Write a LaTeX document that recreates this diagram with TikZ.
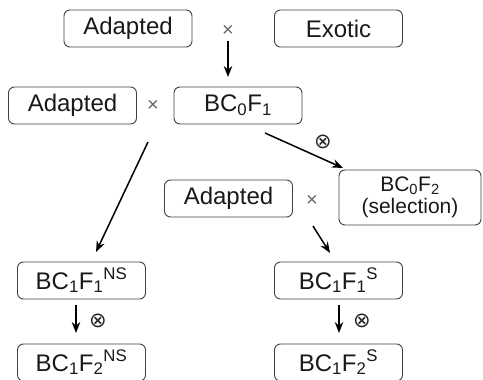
\documentclass[tikz,border=0pt]{standalone}
\usepackage{fontspec}
\setmainfont{Liberation Sans}
\newfontfamily\symfont{DejaVu Sans}
\usetikzlibrary{arrows.meta}
\begin{document}
\begin{tikzpicture}[x=1pt,y=-1pt,
  box/.style={draw=black!75, line width=0.9pt, rounded corners=6pt, minimum width=128pt, minimum height=37pt, inner sep=0pt, font=\fontsize{24}{26}\selectfont, text=black!90},
  crs/.style={inner sep=0pt, font=\fontsize{20}{20}\selectfont, text=black!60},
  otm/.style={inner sep=0pt, font=\symfont\fontsize{21}{21}\selectfont, text=black!85},
  arr/.style={-{Stealth[length=11pt,width=8.5pt]}, line width=1.5pt, black}]
\useasboundingbox (0,0) rectangle (483,380);
\node[box] (a1) at (128,28.5) {Adapted};
\node[box] (ex) at (338.5,28.5) {Exotic};
\node[box] (a2) at (72.5,105.5) {Adapted};
\node[box] (b01) at (238,105.5) {BC\textsubscript{0}F\textsubscript{1}};
\node[box] (a3) at (228.5,198.5) {Adapted};
\node[box, minimum width=142pt, minimum height=55pt, align=center, font=\fontsize{21}{22.5}\selectfont] (b02) at (410,197.5) {BC\textsubscript{0}F\textsubscript{2}\\(selection)};
\node[box] (ns1) at (81.5,280.5) {BC\textsubscript{1}F\textsubscript{1}\textsuperscript{NS}};
\node[box] (s1) at (338.5,280.5) {BC\textsubscript{1}F\textsubscript{1}\textsuperscript{S}};
\node[box] (ns2) at (81.5,362.5) {BC\textsubscript{1}F\textsubscript{2}\textsuperscript{NS}};
\node[box] (s2) at (338.5,362.5) {BC\textsubscript{1}F\textsubscript{2}\textsuperscript{S}};
\node[crs] (x1) at (228,31) {×};
\node[crs] (x2) at (153,106) {×};
\node[crs] (x3) at (312,201) {×};
\node[otm] (o1) at (323,142) {⊗};
\node[otm] (o2) at (98,321) {⊗};
\node[otm] (o3) at (362,321) {⊗};
\coordinate (p1s) at (228,41); \coordinate (p1e) at (228,77);
\coordinate (p2s) at (265,133); \coordinate (p2e) at (343,168);
\coordinate (p3s) at (148,142); \coordinate (p3e) at (96,252);
\coordinate (p4s) at (313,226); \coordinate (p4e) at (330,253);
\coordinate (p5s) at (76,305); \coordinate (p5e) at (76,333);
\coordinate (p6s) at (339,305); \coordinate (p6e) at (339,333);
\draw[arr] (p1s) -- (p1e);
\draw[arr] (p2s) -- (p2e);
\draw[arr] (p3s) -- (p3e);
\draw[arr] (p4s) -- (p4e);
\draw[arr] (p5s) -- (p5e);
\draw[arr] (p6s) -- (p6e);
\end{tikzpicture}
\end{document}
